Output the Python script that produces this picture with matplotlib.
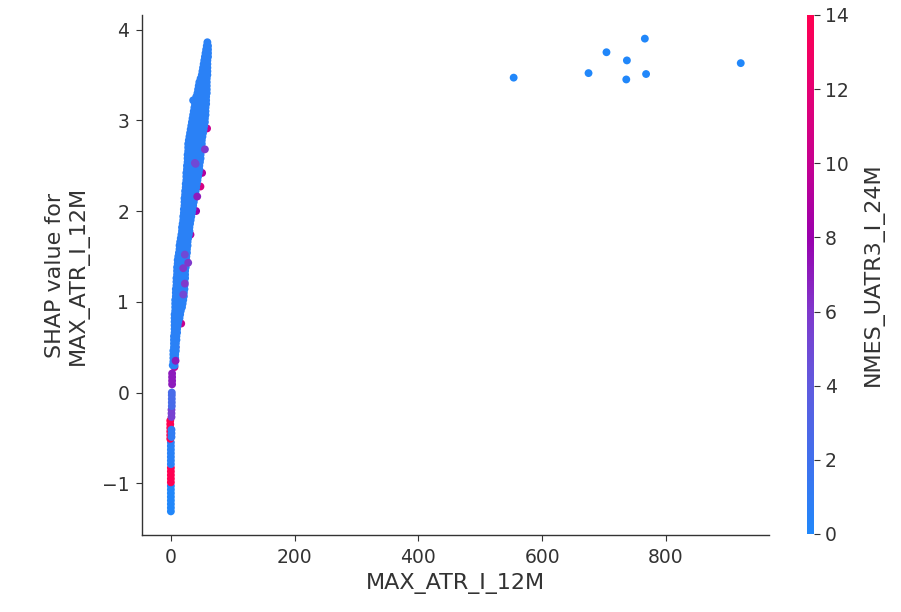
import numpy as np
import matplotlib
matplotlib.use('Agg')
import matplotlib.pyplot as plt
from matplotlib.colors import LinearSegmentedColormap

# dense band of points (one list of x values per SHAP-value row)
row_y = [3.86, 3.82, 3.78, 3.74, 3.70, 3.66, 3.62, 3.58, 3.54, 3.50,
         3.46, 3.42, 3.38, 3.34, 3.30, 3.26, 3.22, 3.18, 3.14, 3.10,
         3.06, 3.02, 2.98, 2.94, 2.90, 2.86, 2.82, 2.78, 2.74, 2.70,
         2.66, 2.62, 2.58, 2.54, 2.50, 2.46, 2.42, 2.38, 2.34, 2.30,
         2.26, 2.22, 2.18, 2.14, 2.10, 2.06, 2.02, 1.98, 1.94, 1.90,
         1.86, 1.82, 1.78, 1.74, 1.70, 1.66, 1.62, 1.58, 1.54, 1.50,
         1.46, 1.42, 1.38, 1.34, 1.30, 1.26, 1.22, 1.18, 1.14, 1.10,
         1.06, 1.02, 0.98, 0.94, 0.90, 0.86, 0.82, 0.78, 0.74, 0.70,
         0.66, 0.62, 0.58, 0.54, 0.50, 0.46, 0.42, 0.38, 0.34, 0.30]
row_x = [[59], [58, 60], [57, 60], [56, 60], [55, 60], [54, 59], [53, 59],
         [52, 56, 59], [51, 55, 59], [50, 54, 59],
         [48, 53, 58], [46, 51, 58], [45, 50, 55, 58], [44, 49, 54, 58],
         [43, 48, 53, 58], [41, 46, 51, 57], [36, 41, 46, 51, 57],
         [39, 44, 49, 54, 57], [38, 43, 48, 53, 56], [37, 42, 47, 52, 56],
         [36, 41, 46, 51, 56], [35, 40, 45, 50, 55], [34, 39, 44, 49, 55],
         [33, 38, 43, 48, 54], [32, 37, 42, 47, 53], [31, 36, 41, 46, 52],
         [30, 35, 40, 45, 51], [29, 34, 39, 44, 50], [28, 33, 38, 44, 50],
         [28, 33, 38, 43, 49],
         [28, 33, 38, 43, 49], [27, 32, 37, 42, 48], [27, 32, 37, 42, 48],
         [27, 32, 37, 42, 47], [26, 31, 36, 41, 46], [26, 31, 36, 41, 46],
         [25, 30, 35, 40, 45], [25, 30, 35, 40, 44], [25, 30, 35, 39, 43],
         [24, 29, 34, 38, 42],
         [24, 29, 34, 38, 41], [23, 28, 33, 37, 40], [23, 28, 33, 36, 39],
         [22, 27, 32, 36, 38], [22, 27, 32, 37], [22, 27, 32, 36],
         [21, 26, 31, 35], [21, 26, 30, 34], [20, 25, 29, 33], [20, 24, 28, 32],
         [19, 23, 27, 31], [18, 22, 26, 30], [18, 22, 26, 30], [17, 21, 25, 29],
         [16, 20, 24, 28], [15, 19, 23, 27], [14, 18, 22, 27], [14, 18, 22, 26],
         [13, 17, 21, 26], [12, 16, 21, 25],
         [11, 15, 20, 25], [11, 15, 19, 24], [10, 14, 19, 24], [10, 14, 18, 23],
         [10, 14, 18, 23], [9, 13, 18, 23], [9, 13, 17, 22], [9, 13, 17, 22],
         [8, 12, 17, 22], [8, 12, 16, 21],
         [8, 12, 16, 21], [7, 11, 16, 20], [7, 11, 15, 19], [7, 11, 14, 18],
         [7, 10, 13, 16], [6, 10, 13, 15], [6, 9, 12, 14], [6, 9, 12],
         [6, 9, 11], [6, 8, 10],
         [6, 8, 10], [5, 8, 9], [5, 7, 9], [5, 7, 8], [5, 7, 8], [4, 6, 8],
         [4, 6, 7], [4, 6, 7], [4, 5, 6], [3, 5, 6]]
band_level = 0.6

# coloured points lying under the band (only their edges show)
under_x = [58.5, 50.5, 47.8, 36, 31.7, 11.3, 16.7, 7.5, 5.8, 40.8]
under_y = [2.91, 2.42, 2.27, 2.09, 1.74, 0.86, 0.76, 0.50, 0.28, 2.00]
under_c = [10, 9, 11, 11, 9, 10, 10, 9, 10, 8]

# coloured points showing on top of the band
top_x = [55, 40, 42.6, 28, 22.6, 38.8, 22.6, 20, 20, 7.6]
top_y = [2.68, 2.52, 2.16, 1.43, 1.20, 2.53, 1.52, 1.37, 1.08, 0.35]
top_c = [6, 5, 7, 6, 6, 5, 5, 6, 5, 7]

# column of points at MAX_ATR_I_12M = 0
col_x = [0, 0, 0, 0, 0, 0, 0, 0,
         0, 0, 0, 0, 0,
         0, 0, 0, 0, 0, 0, 0,
         -1, -1, -1, -1, -1, -1,
         1, 1, 1,
         1, 1, 1,
         1.5, 1.5, 1.5, 1.5, 1.5,
         2, 2, 2, 2]
col_y = [-1.31, -1.27, -1.23, -1.19, -1.15, -1.11, -1.07, -1.03,
         -0.99, -0.95, -0.91, -0.87, -0.83,
         -0.79, -0.75, -0.71, -0.67, -0.63, -0.59, -0.55,
         -0.51, -0.47, -0.43, -0.39, -0.35, -0.31,
         -0.49, -0.45, -0.41,
         -0.27, -0.23, -0.19,
         -0.15, -0.11, -0.07, -0.03, 0.00,
         0.09, 0.13, 0.17, 0.21]
col_c = [0, 0, 0, 0, 0, 0, 0, 0,
         14, 14, 14, 14, 14,
         0.5, 0.5, 0.5, 0.5, 0.5, 0.5, 0.5,
         14, 14, 14, 14, 14, 14,
         1, 1, 1,
         5.5, 5.5, 5.5,
         2.5, 2.5, 2.5, 2.5, 2.5,
         7.0, 7.0, 7.0, 7.0]

# the few large values
far_x = [554, 675, 704, 737, 736, 766, 768, 921]
far_y = [3.47, 3.52, 3.75, 3.66, 3.45, 3.90, 3.51, 3.63]
far_c = [0, 0, 0, 0, 0, 0, 0, 0]

cmap = LinearSegmentedColormap.from_list('red_blue', [
    (0.00, (0.13, 0.53, 0.98)),
    (0.14, (0.25, 0.44, 0.93)),
    (0.29, (0.38, 0.35, 0.87)),
    (0.43, (0.50, 0.22, 0.80)),
    (0.57, (0.60, 0.00, 0.68)),
    (0.71, (0.77, 0.00, 0.57)),
    (0.86, (0.90, 0.00, 0.45)),
    (1.00, (1.00, 0.00, 0.318)),
])

band_x = np.concatenate([np.array(r, dtype=float) for r in row_x])
band_y = np.concatenate([np.full(len(r), yv) for r, yv in zip(row_x, row_y)])
band_c = np.full(len(band_x), band_level)

xs = np.concatenate([far_x, under_x, band_x, top_x, col_x])
ys = np.concatenate([far_y, under_y, band_y, top_y, col_y])
cs = np.concatenate([far_c, under_c, band_c, top_c, col_c])

axis_color = '#333333'

fig = plt.figure(figsize=(9.01, 6.12), dpi=100)
ax = fig.add_axes([0.1573, 0.1258, 0.6965, 0.8497])
cax = fig.add_axes([0.896, 0.1275, 0.0074, 0.848])

sc = ax.scatter(xs, ys, s=32, c=cs, cmap=cmap, vmin=0, vmax=14, linewidth=0)

ax.set_xticks([0, 200, 400, 600, 800])
ax.set_yticks([-1, 0, 1, 2, 3, 4])
ax.spines['top'].set_visible(False)
ax.spines['right'].set_visible(False)
for side in ['left', 'bottom']:
    ax.spines[side].set_color(axis_color)
    ax.spines[side].set_linewidth(1.0)
ax.tick_params(colors=axis_color, labelsize=13.5, length=4.5, pad=4.5)
ax.set_xlabel('MAX_ATR_I_12M', color=axis_color, fontsize=16, labelpad=5)
ax.set_ylabel('SHAP value for\nMAX_ATR_I_12M', color=axis_color,
              fontsize=16, labelpad=9)

cb = fig.colorbar(sc, cax=cax, ticks=range(0, 15, 2))
cb.outline.set_visible(False)
cb.ax.tick_params(labelsize=13.5, colors=axis_color, length=4.5)
cb.set_label('NMES_UATR3_I_24M', size=16, color=axis_color, labelpad=10)

fig.savefig('out.png', dpi=100)
